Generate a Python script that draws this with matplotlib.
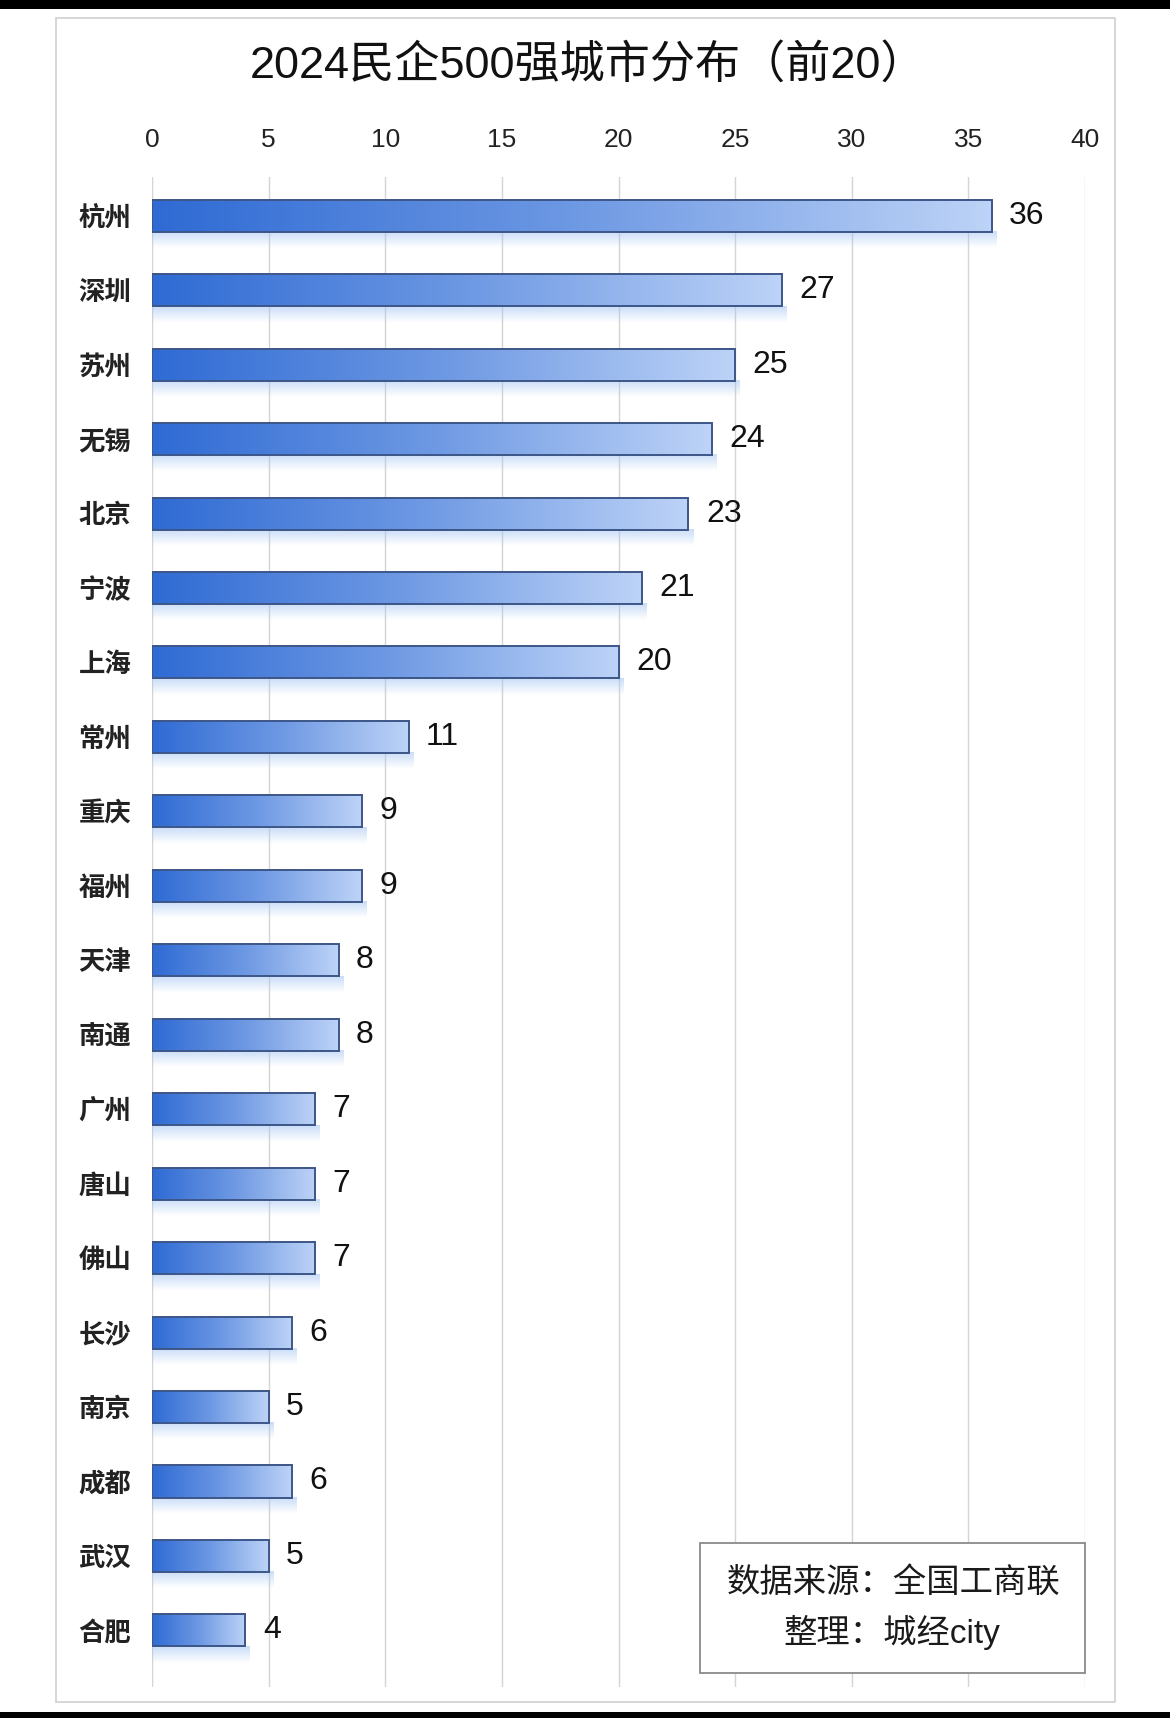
import matplotlib
matplotlib.use("Agg")
import matplotlib.pyplot as plt
import numpy as np
from matplotlib.colors import LinearSegmentedColormap
from matplotlib.patches import Rectangle

plt.rcParams['font.family'] = ['Liberation Sans', 'Noto Sans CJK SC', 'DejaVu Sans']

# ---- data ----
cities = ["杭州", "深圳", "苏州", "无锡", "北京", "宁波", "上海", "常州", "重庆", "福州",
          "天津", "南通", "广州", "唐山", "佛山", "长沙", "南京", "成都", "武汉", "合肥"]
counts = [36, 27, 25, 24, 23, 21, 20, 11, 9, 9, 8, 8, 7, 7, 7, 6, 5, 6, 5, 4]
xticks = [0, 5, 10, 15, 20, 25, 30, 35, 40]
title = "2024民企500强城市分布（前20）"
note_lines = ["数据来源：全国工商联", "整理：城经city"]

W, H = 1170, 1718
fig = plt.figure(figsize=(W / 100, H / 100), dpi=100)
fig.patch.set_facecolor("white")

def fx(px):
    return px / W

def fy(py):
    return 1 - py / H

# black strips at top/bottom
fig.add_artist(Rectangle((0, fy(9)), 1, 9 / H, transform=fig.transFigure,
                         facecolor="black", edgecolor="none", zorder=0))
fig.add_artist(Rectangle((0, 0), 1, (H - 1712) / H, transform=fig.transFigure,
                         facecolor="black", edgecolor="none", zorder=0))
# chart frame
fig.add_artist(Rectangle((fx(56), fy(1702)), fx(1115) - fx(56), (1702 - 18) / H,
                         transform=fig.transFigure, facecolor="white",
                         edgecolor="#cfcfcf", linewidth=1.2, zorder=0))

ax_left, ax_right = 152, 1085
ax_top, ax_bot = 177, 1687
ax = fig.add_axes([fx(ax_left), fy(ax_bot), (ax_right - ax_left) / W, (ax_bot - ax_top) / H])
ax.set_facecolor("none")

y = np.arange(len(cities))
bar_h = 0.43
bars = ax.barh(y, counts, height=bar_h, color="none", edgecolor="#3d5688",
               linewidth=1.4, zorder=4)

ax.set_xlim(0, 40)
ax.set_ylim(19.76, -0.52)

cmap = LinearSegmentedColormap.from_list("bg", ["#2f6bd4", "#6d98e3", "#bdd3f7"])
grad = np.linspace(0, 1, 256).reshape(1, -1)
shadow = np.zeros((40, 1, 4))
shadow[..., 0] = 0.62
shadow[..., 1] = 0.76
shadow[..., 2] = 0.95
shadow[:, 0, 3] = np.linspace(0.55, 0.0, 40)
for b in bars:
    x0, y0 = b.get_x(), b.get_y()
    w, h = b.get_width(), b.get_height()
    im = ax.imshow(grad, extent=(x0, x0 + w, y0 + h, y0), aspect="auto",
                   cmap=cmap, zorder=3, interpolation="bilinear")
    im.set_clip_path(b)
    # soft glow under bar
    ax.imshow(shadow, extent=(x0, x0 + w + 0.2, y0 + h + 0.22, y0 + h), aspect="auto",
              zorder=2, interpolation="bilinear")

for b, v in zip(bars, counts):
    ax.text(v + 0.75, b.get_y() + b.get_height() / 2, str(v), va="center", ha="left",
            fontsize=23, color="#111111", zorder=5)

ax.xaxis.tick_top()
ax.set_xticks(xticks)
ax.set_xticklabels([str(t) for t in xticks], fontsize=19, color="#222222")
ax.tick_params(axis="x", length=0, pad=18)
ax.set_yticks(y)
ax.set_yticklabels(cities, fontsize=19, fontweight="bold", color="#222222")
ax.tick_params(axis="y", length=0, pad=15)
ax.grid(axis="x", color="#d4d4d4", linewidth=1.0, zorder=1)
ax.set_axisbelow(True)
for s in ax.spines.values():
    s.set_visible(False)

fig.text(fx(588), fy(65), title, ha="center", va="center", fontsize=32.5, color="#111111")

# note box
fig.add_artist(Rectangle((fx(700), fy(1673)), fx(1085) - fx(700), (1673 - 1543) / H,
                         transform=fig.transFigure, facecolor="white",
                         edgecolor="#8a8a8a", linewidth=1.3, zorder=6))
fig.text(fx(894), fy(1583), note_lines[0], ha="center", va="center", fontsize=24,
         color="#1a1a1a", zorder=7)
fig.text(fx(892), fy(1632), note_lines[1], ha="center", va="center", fontsize=24,
         color="#1a1a1a", zorder=7)

fig.savefig("out.png", dpi=100, facecolor="white")
